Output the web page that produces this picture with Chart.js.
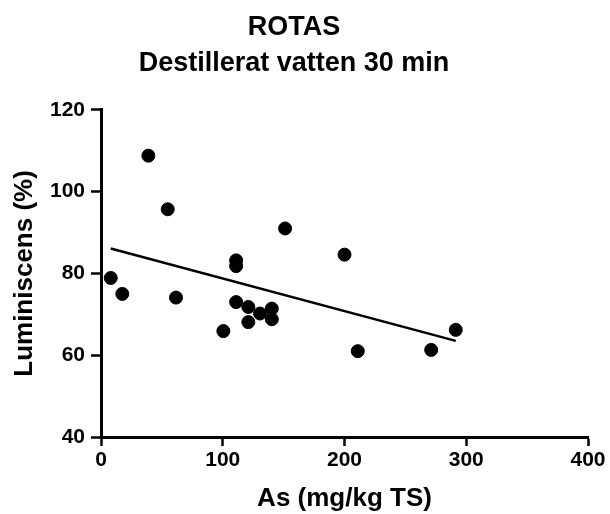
<!DOCTYPE html>
<html>
<head>
<meta charset="utf-8">
<script src="https://cdn.jsdelivr.net/npm/chart.js@4.4.1/dist/chart.umd.min.js"></script>
<style>
  html, body { margin: 0; padding: 0; background: #fff; }
  #wrap { width: 610px; height: 514px; }
</style>
</head>
<body>
<div id="wrap"><canvas id="chart"></canvas></div>
<script>
// Mätvärden
const asHalt = [8, 17.5, 38.9, 54.8, 61.6, 100.5, 111, 111, 111, 121, 121, 130.6, 140.3, 140.3, 151.2, 200, 210.9, 271.2, 291.4];
const luminiscens = [78.9, 75.0, 108.8, 95.7, 74.1, 65.9, 83.2, 81.8, 73.0, 71.8, 68.1, 70.2, 71.4, 68.8, 91.0, 84.6, 61.0, 61.3, 66.2];

// Regressionslinje (ändpunkter)
const fitX = [8, 291.4];
const fitY = [86.1, 63.5];

const xTicks = [0, 100, 200, 300, 400];
const yTicks = [40, 60, 80, 100, 120];

const fontFam = '"Liberation Sans", Arial, sans-serif';
Chart.defaults.font.family = fontFam;
Chart.defaults.color = '#000';

const points = asHalt.map((x, i) => ({ x, y: luminiscens[i] }));
const fitLine = fitX.map((x, i) => ({ x, y: fitY[i] }));

new Chart(document.getElementById('chart'), {
  type: 'scatter',
  data: {
    datasets: [
      {
        label: 'Data',
        data: points,
        backgroundColor: '#000',
        borderColor: '#000',
        pointRadius: 6.5,
        pointHoverRadius: 6.5
      },
      {
        label: 'Fit',
        type: 'line',
        data: fitLine,
        borderColor: '#000',
        borderWidth: 2.5,
        pointRadius: 0,
        fill: false
      }
    ]
  },
  options: {
    responsive: true,
    maintainAspectRatio: false,
    animation: false,
    layout: { padding: { left: 0, right: 22, top: 0, bottom: 0 } },
    plugins: {
      legend: { display: false },
      tooltip: { enabled: false },
      title: {
        display: true,
        text: ['ROTAS', 'Destillerat vatten 30 min'],
        font: { size: 27, weight: 'bold', lineHeight: 1.35 },
        color: '#000',
        padding: { top: 9, bottom: 28 }
      }
    },
    scales: {
      x: {
        type: 'linear',
        min: 0,
        max: 400,
        afterBuildTicks: s => { s.ticks = xTicks.map(v => ({ value: v })); },
        afterFit: s => { s.height = 77; },
        border: { display: true, color: '#000', width: 3 },
        grid: { drawOnChartArea: false, drawTicks: true, tickLength: 9, tickColor: '#000', tickWidth: 2.5 },
        ticks: { font: { size: 21, weight: 'bold' }, color: '#000', padding: 2, maxRotation: 0 },
        title: {
          display: true,
          text: 'As (mg/kg TS)',
          font: { size: 26, weight: 'bold', lineHeight: 1.0 },
          color: '#000',
          padding: { top: 0, bottom: 2 }
        }
      },
      y: {
        type: 'linear',
        min: 40,
        max: 120,
        afterBuildTicks: s => { s.ticks = yTicks.map(v => ({ value: v })); },
        afterFit: s => { s.width = 101; },
        border: { display: true, color: '#000', width: 3 },
        grid: { drawOnChartArea: false, drawTicks: true, tickLength: 10, tickColor: '#000', tickWidth: 2.5 },
        ticks: { font: { size: 21, weight: 'bold' }, color: '#000', padding: 6 },
        title: {
          display: true,
          text: 'Luminiscens (%)',
          font: { size: 26, weight: 'bold' },
          color: '#000',
          padding: { top: 9, bottom: 0 }
        }
      }
    }
  }
});
</script>
</body>
</html>
